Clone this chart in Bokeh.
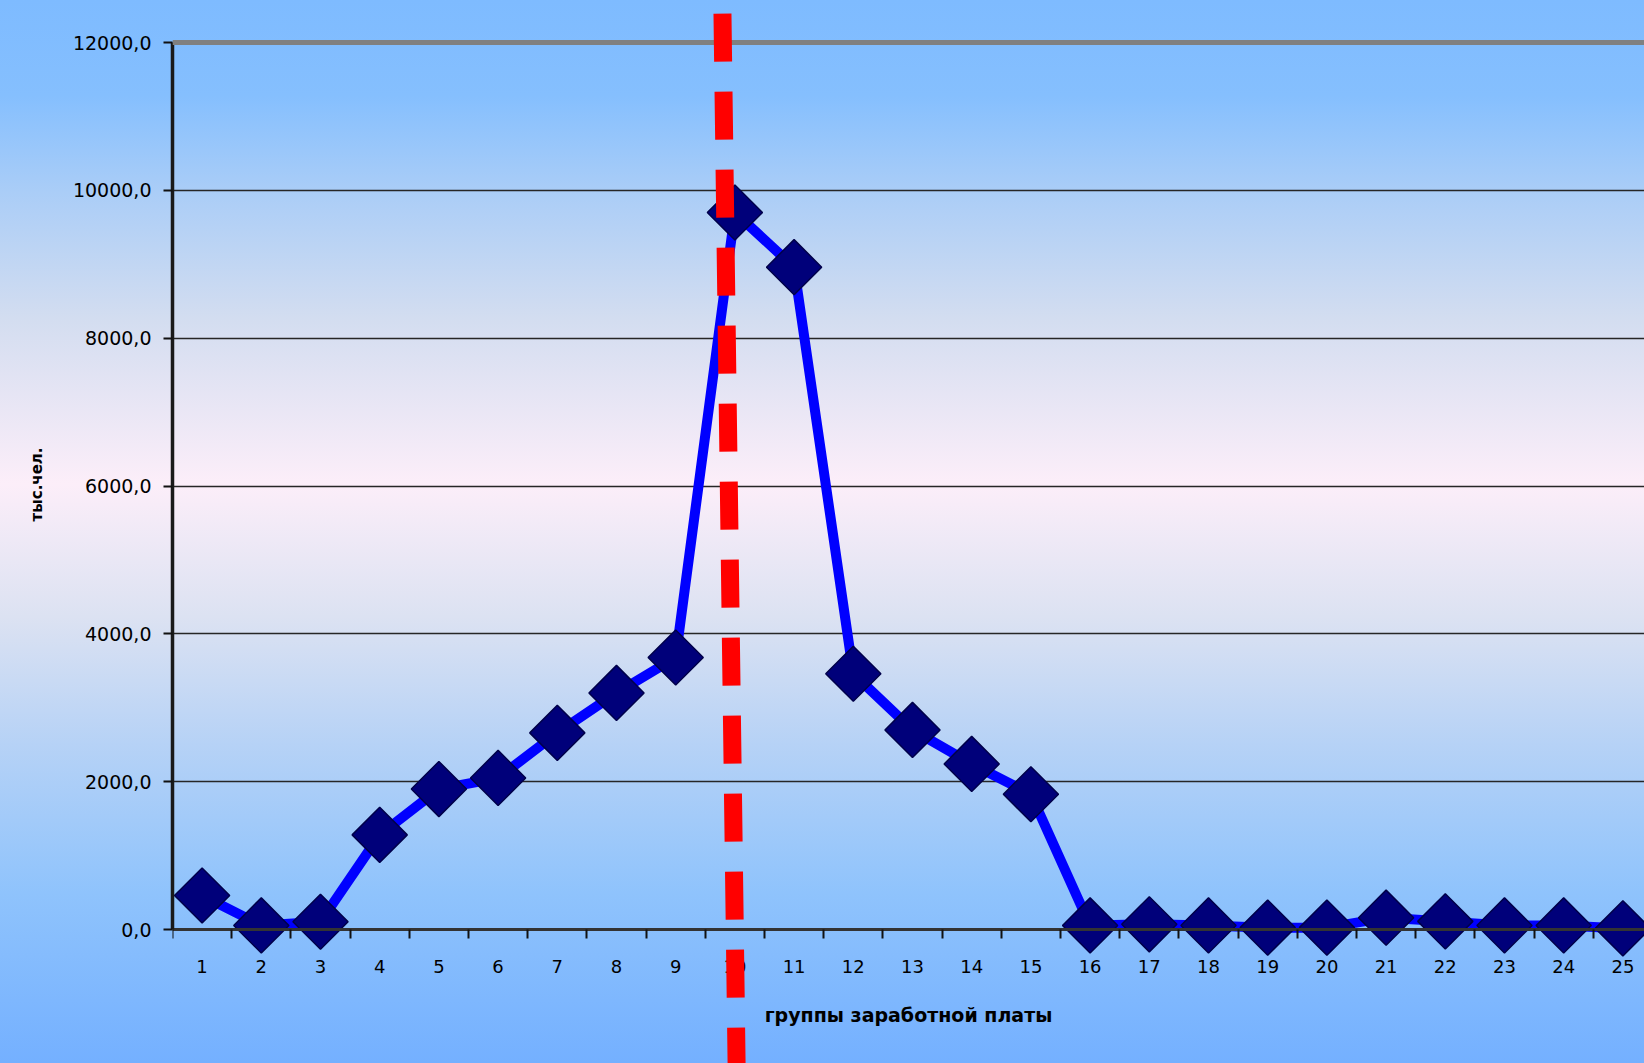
from bokeh.plotting import figure
from bokeh.models import Range1d, FixedTicker, Arrow, Span, Title, ColumnDataSource
from bokeh.embed import file_html
from bokeh.resources import INLINE
import math

# ---- data ----
groups = list(range(1, 26))
workers = [460, 55, 105, 1280, 1900, 2050, 2660, 3200, 3680, 9700, 8960, 3460,
           2700, 2240, 1830, 55, 70, 55, 25, 25, 160, 110, 55, 55, 15]
y_ticks = [0, 2000, 4000, 6000, 8000, 10000, 12000]
y_tick_labels = ["0,0", "2000,0", "4000,0", "6000,0", "8000,0", "10000,0", "12000,0"]
x_title = "группы заработной платы"
y_title = "тыс.чел."
median_group = 10

# ---- layout (pixels) ----
W, H = 1644, 1063
LEFT = 172            # plot-area left edge
TOP_PX, ZERO_PX = 42, 929   # pixel rows of 12000 and 0
CAT_PX = 59.2         # width of one category
units_per_px = 12000 / (ZERO_PX - TOP_PX)
y_lo = -(H - ZERO_PX) * units_per_px
y_hi = 12000 + TOP_PX * units_per_px
x_lo = 0.5
x_hi = 0.5 + (W - LEFT) / CAT_PX

p = figure(width=W, height=H, output_backend="svg", toolbar_location=None,
           x_range=Range1d(x_lo, x_hi), y_range=Range1d(y_lo, y_hi),
           min_border_left=LEFT, min_border_top=0, min_border_bottom=0,
           min_border_right=0)
p.styles = {"background": "linear-gradient(to bottom, #7EBBFF 0%, #85BFFE 9%, #AACDF7 18%, "
                          "#D3DDF0 30%, #FCEEF9 45.5%, #DCE2F2 58%, #B6D2F6 70%, "
                          "#8FC3FC 84%, #74B0FF 100%)"}
p.background_fill_color = None
p.border_fill_color = None
p.outline_line_color = None

# grid
p.xgrid.grid_line_color = None
p.ygrid.ticker = FixedTicker(ticks=y_ticks)
p.ygrid.grid_line_color = "#262626"
p.ygrid.grid_line_width = 1.5

# y axis
ya = p.yaxis[0]
ya.bounds = (0, 12000)
ya.ticker = FixedTicker(ticks=y_ticks)
ya.major_label_overrides = {t: l for t, l in zip(y_ticks, y_tick_labels)}
ya.major_label_text_font = "DejaVu Sans"
ya.major_label_text_font_size = "19px"
ya.major_label_text_color = "black"
ya.major_label_standoff = 12
ya.major_tick_out = 9
ya.major_tick_in = 0
ya.major_tick_line_color = "#111111"
ya.major_tick_line_width = 2
ya.minor_tick_line_color = None
ya.axis_line_color = "#1a1a1a"
ya.axis_line_width = 3.5

# y-axis title (vertical), its top end placed so it is centred on 0..12000
p.add_layout(Title(text=y_title, align="right", offset=447,
                   standoff=48, text_font="DejaVu Sans", text_font_style="bold",
                   text_font_size="15px", text_color="black"), "left")

# x axis, placed at y = 0
xa = p.xaxis[0]
xa.fixed_location = 0
xa.bounds = (0.5, 25.5)
xa.ticker = FixedTicker(ticks=groups, minor_ticks=[g - 0.5 for g in groups] + [groups[-1] + 0.5])
xa.major_tick_out = 0
xa.major_tick_in = 0
xa.minor_tick_out = 9
xa.minor_tick_in = 0
xa.minor_tick_line_color = "#111111"
xa.minor_tick_line_width = 2
xa.major_label_text_font = "DejaVu Sans"
xa.major_label_text_font_size = "18px"
xa.major_label_text_color = "black"
xa.major_label_standoff = 21
xa.axis_line_color = "#333333"
xa.axis_line_width = 3
xa.axis_label = x_title
xa.axis_label_text_font = "DejaVu Sans"
xa.axis_label_text_font_style = "bold"
xa.axis_label_text_font_size = "19px"
xa.axis_label_text_color = "black"
xa.axis_label_standoff = 28

# top border line at 12000
p.add_layout(Span(location=12000, dimension="width", line_color="#808080", line_width=5))

src = ColumnDataSource(dict(x=groups, y=workers))
p.line("x", "y", source=src, line_color="#0000FF", line_width=10, line_join="round")
p.scatter("x", "y", source=src, marker="square", size=39, angle=math.pi / 4,
          fill_color="#00007A", line_color="#00004A", line_width=1.5)

# hand-drawn red dashed line marking the median group
p.add_layout(Arrow(start=None, end=None,
                   x_start=median_group - 0.21, y_start=12390,
                   x_end=median_group + 0.03, y_end=-1900,
                   line_color="#FF0000", line_width=18, line_dash="48 30"))

open("out.html", "w").write(file_html(p, INLINE))
